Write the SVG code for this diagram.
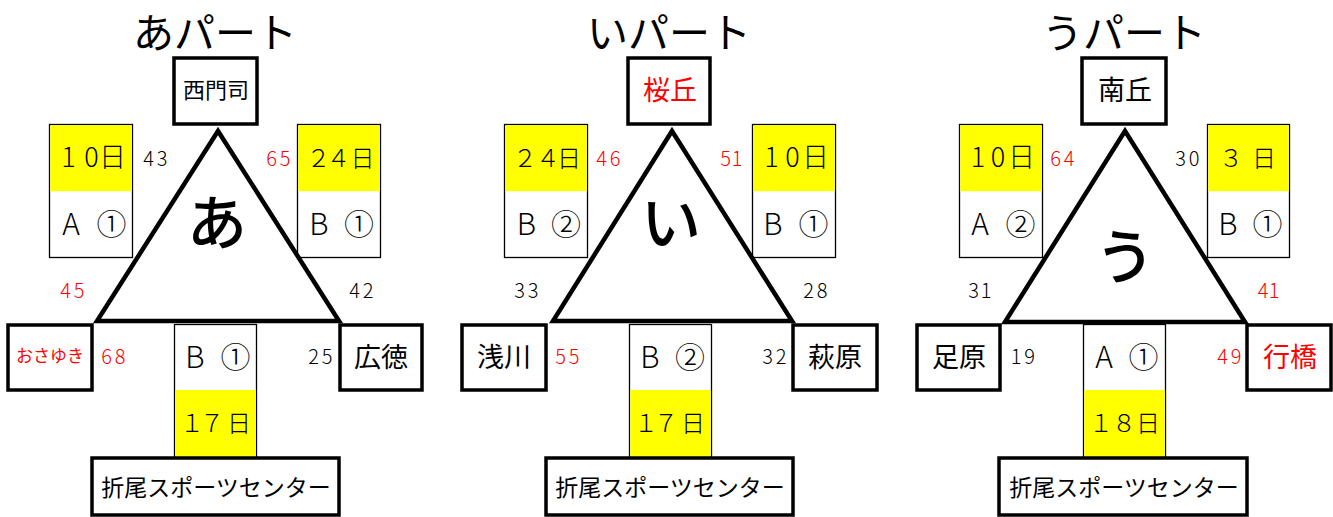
<svg xmlns="http://www.w3.org/2000/svg" width="1333" height="517" viewBox="0 0 1333 517">
<style>
text{font-family:"Noto Sans CJK JP","Noto Sans",sans-serif;fill:#000}
.r{fill:#ff0000}
.title{font-size:41px;text-anchor:middle}
.big{font-size:60px;text-anchor:middle;font-weight:500}
.lbl{font-size:27px;text-anchor:middle}
.lbl22{font-size:22px;text-anchor:middle}
.sm{font-size:17px;text-anchor:middle}
.num{font-size:20px;text-anchor:middle;font-weight:300}
.d{font-size:27px;text-anchor:middle;font-weight:300}
.fw{font-size:24px;text-anchor:middle;font-weight:300}
.ab{font-size:30px;text-anchor:middle;font-weight:300}
.foot{font-size:23px;text-anchor:middle}
.thick{fill:#fff;stroke:#000;stroke-width:3.5}
.thin{fill:#fff;stroke:#000;stroke-width:1.3}
.yel{fill:#ffff00}
.tri{fill:none;stroke:#000;stroke-width:4.5;stroke-linejoin:miter}
</style>

<!-- Panel あ -->
<g id="panel-a">
  <text class="title" x="215" y="48">あパート</text>
  <g id="a-top"><rect class="thick" x="174" y="58" width="83" height="66"/><text class="lbl22" x="216" y="98">西門司</text></g>
  <g id="a-left"><rect class="thin" x="49.5" y="124.5" width="83" height="133"/><rect class="yel" x="50.2" y="125.2" width="81.6" height="66"/><text class="d" x="68.5 91.5 112.5" y="167">10日</text><text class="ab" x="71 91 111.5" y="235">A ①</text></g>
  <g id="a-right"><rect class="thin" x="297.5" y="124.5" width="83" height="133"/><rect class="yel" x="298.2" y="125.2" width="81.6" height="66"/><text class="fw" x="318.5 338.5 362.5" y="167">２４日</text><text class="ab" x="319 339 359" y="235">B ①</text></g>
  <g id="a-bl"><rect class="thick" x="8" y="325" width="84" height="65"/><text class="sm r" x="50" y="362">おさゆき</text></g>
  <g id="a-bc"><rect class="thin" x="174.5" y="324.5" width="82" height="133"/><rect class="yel" x="175.2" y="390" width="80.6" height="66.8"/><text class="ab" x="195 215 235.5" y="368">B ①</text><text class="fw" x="192 212 239" y="432">１７日</text></g>
  <g id="a-br"><rect class="thick" x="340" y="325" width="82" height="65"/><text class="lbl" x="381" y="367">広徳</text></g>
  <g id="a-foot"><rect class="thick" x="92" y="458" width="247" height="57"/><text class="foot" x="216" y="496">折尾スポーツセンター</text></g>
  <g id="a-tri"><polygon class="tri" points="218,131 97,321 339,321"/><text class="big" x="217" y="245">あ</text></g>
  <text class="num" x="148.5 162" y="166">43</text>
  <text class="num r" x="271.5 285" y="166">65</text>
  <text class="num r" x="65.5 79" y="298">45</text>
  <text class="num" x="354.5 368" y="298">42</text>
  <text class="num r" x="106.5 120" y="364">68</text>
  <text class="num" x="313.5 327" y="364">25</text>
</g>

<!-- Panel い -->
<g id="panel-i">
  <text class="title" x="669" y="48">いパート</text>
  <g id="i-top"><rect class="thick" x="628" y="58" width="82" height="66"/><text class="lbl r" x="670" y="100">桜丘</text></g>
  <g id="i-left"><rect class="thin" x="504.5" y="124.5" width="83" height="133"/><rect class="yel" x="505.2" y="125.2" width="81.6" height="66"/><text class="fw" x="525 548 569" y="167">２４日</text><text class="ab" x="526.5 546 566" y="235">B ②</text></g>
  <g id="i-right"><rect class="thin" x="752.5" y="124.5" width="83" height="133"/><rect class="yel" x="753.2" y="125.2" width="81.6" height="66"/><text class="d" x="771.5 792.5 815.5" y="167">10日</text><text class="ab" x="773 793 813.5" y="235">B ①</text></g>
  <g id="i-bl"><rect class="thick" x="462" y="325" width="84" height="65"/><text class="lbl" x="504" y="367">浅川</text></g>
  <g id="i-bc"><rect class="thin" x="629.5" y="324.5" width="82" height="133"/><rect class="yel" x="630.2" y="390" width="80.6" height="66.8"/><text class="ab" x="650 670 690" y="368">B ②</text><text class="fw" x="646 666 693" y="432">１７日</text></g>
  <g id="i-br"><rect class="thick" x="793" y="325" width="84" height="65"/><text class="lbl" x="835" y="367">萩原</text></g>
  <g id="i-foot"><rect class="thick" x="546" y="458" width="247" height="57"/><text class="foot" x="670" y="496">折尾スポーツセンター</text></g>
  <g id="i-tri"><polygon class="tri" points="672,131 553,321 792,321"/><text class="big" x="671" y="245">い</text></g>
  <text class="num r" x="601.5 615" y="166">46</text>
  <text class="num r" x="725.5 737" y="166">51</text>
  <text class="num" x="519.5 533" y="298">33</text>
  <text class="num" x="808.5 822" y="298">28</text>
  <text class="num r" x="560.5 574" y="364">55</text>
  <text class="num" x="767.5 781" y="364">32</text>
</g>

<!-- Panel う -->
<g id="panel-u">
  <text class="title" x="1124" y="48">うパート</text>
  <g id="u-top"><rect class="thick" x="1082" y="58" width="84" height="66"/><text class="lbl" x="1125" y="100">南丘</text></g>
  <g id="u-left"><rect class="thin" x="959.5" y="124.5" width="83" height="133"/><rect class="yel" x="960.2" y="125.2" width="81.6" height="66"/><text class="d" x="978 998 1021.5" y="167">10日</text><text class="ab" x="980 1000 1020.5" y="235">A ②</text></g>
  <g id="u-right"><rect class="thin" x="1207.5" y="124.5" width="82" height="133"/><rect class="yel" x="1208.2" y="125.2" width="80.6" height="66"/><text class="fw" x="1231 1264" y="167">３日</text><text class="ab" x="1228 1248 1267.5" y="235">B ①</text></g>
  <g id="u-bl"><rect class="thick" x="917" y="325" width="83" height="65"/><text class="lbl" x="959" y="367">足原</text></g>
  <g id="u-bc"><rect class="thin" x="1083.5" y="324.5" width="82" height="133"/><rect class="yel" x="1084.2" y="390" width="80.6" height="66.8"/><text class="ab" x="1104 1124 1143.5" y="368">A ①</text><text class="fw" x="1101 1124 1148" y="432">１８日</text></g>
  <g id="u-br"><rect class="thick" x="1247" y="325" width="84" height="65"/><text class="lbl r" x="1290" y="367">行橋</text></g>
  <g id="u-foot"><rect class="thick" x="999" y="458" width="248" height="57"/><text class="foot" x="1124" y="496">折尾スポーツセンター</text></g>
  <g id="u-tri"><polygon class="tri" points="1125,131 1005,322 1245,322"/><text class="big" x="1125" y="279">う</text></g>
  <text class="num r" x="1055.5 1069" y="166">64</text>
  <text class="num" x="1180.5 1194" y="166">30</text>
  <text class="num" x="973.5 986" y="298">31</text>
  <text class="num r" x="1263 1274" y="298">41</text>
  <text class="num" x="1016 1029.5" y="364">19</text>
  <text class="num r" x="1222.5 1236" y="364">49</text>
</g>
</svg>
